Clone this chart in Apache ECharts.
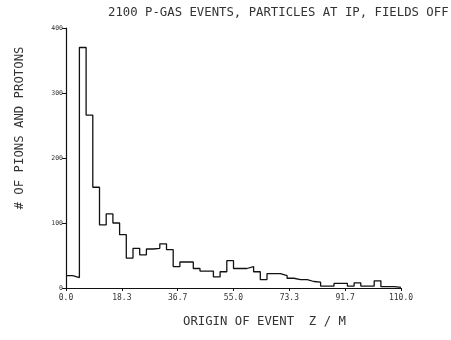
<!DOCTYPE html>
<html>
<head>
<meta charset="utf-8">
<script src="https://cdn.jsdelivr.net/npm/echarts@6/dist/echarts.min.js"></script>
<style>
  html, body { margin: 0; padding: 0; background: #fff; }
  #chart { width: 451px; height: 340px; }
</style>
</head>
<body>
<div id="chart"></div>
<script>
// 50 bins of 2.2 m from z = 0 to 110
const binWidth = 2.2;
const counts = [
  19, 16, 370, 266, 155, 97, 114, 100, 82, 46,
  61, 51, 60, 61, 68, 59, 33, 40, 40, 30,
  26, 26, 17, 25, 42, 30, 30, 33, 25, 13,
  22, 22, 19, 15, 13, 13, 10, 9, 3, 3,
  7, 7, 3, 8, 3, 3, 11, 2, 2, 1
];
const yTicks = [0, 100, 200, 300, 400];
const titleText = '2100 P-GAS EVENTS, PARTICLES AT IP, FIELDS OFF';
const xName = 'ORIGIN OF EVENT  Z / M';
const yName = '# OF PIONS AND PROTONS';

const mono = '"DejaVu Sans Mono", "Liberation Mono", monospace';

// step points at the bin edges
const stepData = counts.map((c, i) => [i * binWidth, c]);
stepData.push([counts.length * binWidth, counts[counts.length - 1]]);
stepData.push([counts.length * binWidth, 0]);

const chart = echarts.init(document.getElementById('chart'));

chart.setOption({
  backgroundColor: '#fff',
  animation: false,
  grid: { left: 66, right: 50, top: 28, bottom: 52 },
  xAxis: {
    type: 'value',
    min: 0,
    max: 110,
    interval: 110 / 6,
    axisLine: { lineStyle: { color: '#111', width: 1.2 } },
    axisTick: { show: true, length: 3, lineStyle: { color: '#111' } },
    splitLine: { show: false },
    axisLabel: {
      color: '#333',
      fontFamily: mono,
      fontSize: 8,
      margin: 6,
      formatter: v => v.toFixed(1)
    }
  },
  yAxis: {
    type: 'value',
    min: yTicks[0],
    max: yTicks[yTicks.length - 1],
    interval: 100,
    axisLine: { show: true, lineStyle: { color: '#111', width: 1.2 } },
    axisTick: { show: true, length: 4, lineStyle: { color: '#111' } },
    splitLine: { show: false },
    axisLabel: {
      color: '#333',
      fontFamily: mono,
      fontSize: 6.5,
      margin: 3
    }
  },
  series: [{
    type: 'line',
    step: 'end',
    data: stepData,
    symbol: 'none',
    lineStyle: { color: '#111', width: 1.3 }
  }],
  graphic: [
    {
      type: 'text',
      left: 108,
      top: 7,
      style: {
        text: titleText,
        font: '12.3px ' + mono,
        fill: '#333'
      }
    },
    {
      type: 'text',
      left: 183,
      top: 316,
      style: {
        text: xName,
        font: '12.3px ' + mono,
        fill: '#333'
      }
    },
    {
      type: 'text',
      x: 20,
      y: 128,
      rotation: Math.PI / 2,
      style: {
        text: yName,
        font: '12.3px ' + mono,
        fill: '#333',
        align: 'center',
        verticalAlign: 'middle'
      }
    }
  ]
});
</script>
</body>
</html>
